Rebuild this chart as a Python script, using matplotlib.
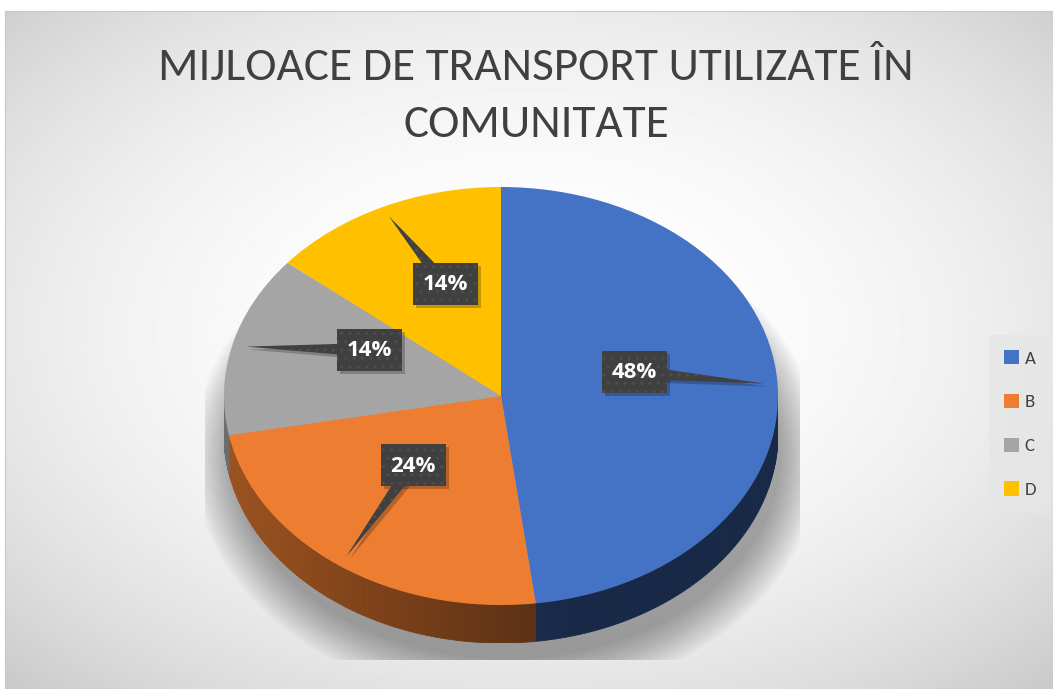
import numpy as np
import matplotlib
matplotlib.use('Agg')
import matplotlib.pyplot as plt
from matplotlib.patches import Polygon, Rectangle, Ellipse
from matplotlib.collections import PolyCollection

# date
categories = ['A', 'B', 'C', 'D']
values = [48, 24, 14, 14]
labels = ['48%', '24%', '14%', '14%']
colors = ['#4472C4', '#ED7D31', '#A5A5A5', '#FFC000']
title_lines = ['MIJLOACE DE TRANSPORT UTILIZATE ÎN', 'COMUNITATE']

W, H = 1053, 689
fig = plt.figure(figsize=(W / 100, H / 100), dpi=100)
fig.patch.set_facecolor('white')

# fundal cu gradient radial
bg = fig.add_axes([5 / W, 0, 1 - 5 / W, 1 - 11 / H])
xs = np.linspace(5, W, 400)
ys = np.linspace(11, H, 300)
gx, gy = np.meshgrid(xs, ys)
r = np.sqrt(((gx - 529) / 530) ** 2 + ((gy - 330) / 340) ** 2) / np.sqrt(2)
v = 1 - 0.2 * np.clip(r, 0, 1.2) ** 2.2
bg.imshow(v, cmap='gray', vmin=0, vmax=1, aspect='auto', extent=[5, W, H, 11])
bg.set_xticks([])
bg.set_yticks([])
for s in bg.spines.values():
    s.set_color('#c8c8c8')
    s.set_linewidth(0.8)

# geometria placintei (pixeli)
cx, top, rx, ry, depth = 501, 187, 277, 209, 38
dep = depth / ry
ax = fig.add_axes([(cx - rx) / W, 1 - (top + 2 * ry + depth) / H,
                   2 * rx / W, (2 * ry + depth) / H])
ax.patch.set_alpha(0)

wedges, _ = ax.pie(values, colors=colors, startangle=90, counterclock=False,
                   radius=1, wedgeprops=dict(linewidth=0))
for w in wedges:
    w.set_zorder(3)
ax.set_aspect('auto')
ax.set_xlim(-1, 1)
ax.set_ylim(-1 - dep, 1)
ax.axis('off')

# umbra moale
clip = Rectangle(((205 - cx) / rx, 1 - (660 - top) / ry),
                 (800 - 205) / rx, (660 - 170) / ry,
                 transform=ax.transData, visible=False)
ax.add_patch(clip)
for i in range(14):
    e = Ellipse((0.02, -dep - 0.1), 2 * (0.99 + 0.011 * i), 2 * (0.98 + 0.015 * i),
                color='black', alpha=0.027, lw=0, zorder=1)
    ax.add_patch(e)
    e.set_clip_path(clip)


def lower_ranges(t1, t2):
    segs = []
    for off in (-360, 0, 360):
        a, b = max(t1 + off, -180), min(t2 + off, 0)
        if b > a:
            segs.append((a, b))
    return segs


# peretii laterali
for w, col in zip(wedges, colors):
    base = np.array(matplotlib.colors.to_rgb(col))
    for a, b in lower_ranges(w.theta1, w.theta2):
        ts = np.radians(np.linspace(a, b, 80))
        polys, fcs = [], []
        for t0, t1 in zip(ts[:-1], ts[1:]):
            polys.append([(np.cos(t0), np.sin(t0)), (np.cos(t1), np.sin(t1)),
                          (np.cos(t1), np.sin(t1) - dep), (np.cos(t0), np.sin(t0) - dep)])
            k = max(0.36, 0.42 - 0.24 * np.cos((t0 + t1) / 2))
            fcs.append(base * k)
        ax.add_collection(PolyCollection(polys, facecolors=fcs, edgecolors=fcs,
                                         linewidths=0.6, zorder=2))

# etichete cu indicator
ov = fig.add_axes([0, 0, 1, 1])
ov.set_xlim(0, W)
ov.set_ylim(H, 0)
ov.axis('off')
ov.patch.set_alpha(0)

box_pos = [(634, 372), (413, 465), (369, 350), (445, 284)]
bw, bh = 65, 42
for w, lab, (bx, by) in zip(wedges, labels, box_pos):
    mid = np.radians((w.theta1 + w.theta2) / 2)
    tx = cx + rx * 0.95 * np.cos(mid)
    ty = top + ry * (1 - 0.95 * np.sin(mid))
    d = np.array([tx - bx, ty - by])
    d = d / np.hypot(*d)
    n = np.array([-d[1], d[0]]) * 7
    c = np.array([bx, by])
    for off, fc, al, z in [(3, 'black', 0.22, 4), (0, '#404040', 1, 5)]:
        tail = Polygon([c + n + off, (tx + off, ty + off), c - n + off],
                       closed=True, facecolor=fc, alpha=al, lw=0, zorder=z)
        box = Rectangle((bx - bw / 2 + off, by - bh / 2 + off), bw, bh,
                        facecolor=fc, alpha=al, lw=0, zorder=z)
        if off == 0:
            box.set_hatch('..')
            box.set_edgecolor('#4e4e4e')
            tail.set_hatch('..')
            tail.set_edgecolor('#4e4e4e')
        ov.add_patch(tail)
        ov.add_patch(box)
    ov.text(bx, by + 1, lab, ha='center', va='center', color='white',
            fontsize=16, fontweight='bold', family=['Open Sans', 'DejaVu Sans'], zorder=6)

# titlu
for i, line in enumerate(title_lines):
    ov.text(536, 80 + 57 * i, line, ha='center', va='baseline', color='#404040',
            fontsize=34, fontweight='light', family=['Carlito', 'Lato', 'DejaVu Sans'])

# legenda
leg = ov.legend(wedges, categories, loc='center', bbox_to_anchor=(1020 / W, 1 - 424 / H),
                bbox_transform=fig.transFigure, frameon=True, facecolor='#e6e6e6',
                edgecolor='none', labelspacing=1.45, handlelength=0.8,
                handleheight=0.8, handletextpad=0.3, borderpad=0.8, fancybox=False,
                prop={'family': ['Carlito', 'Lato', 'DejaVu Sans'], 'size': 13.5})
leg.get_frame().set_alpha(0.8)
for t in leg.get_texts():
    t.set_color('#404040')

fig.savefig('out.png', dpi=100)
